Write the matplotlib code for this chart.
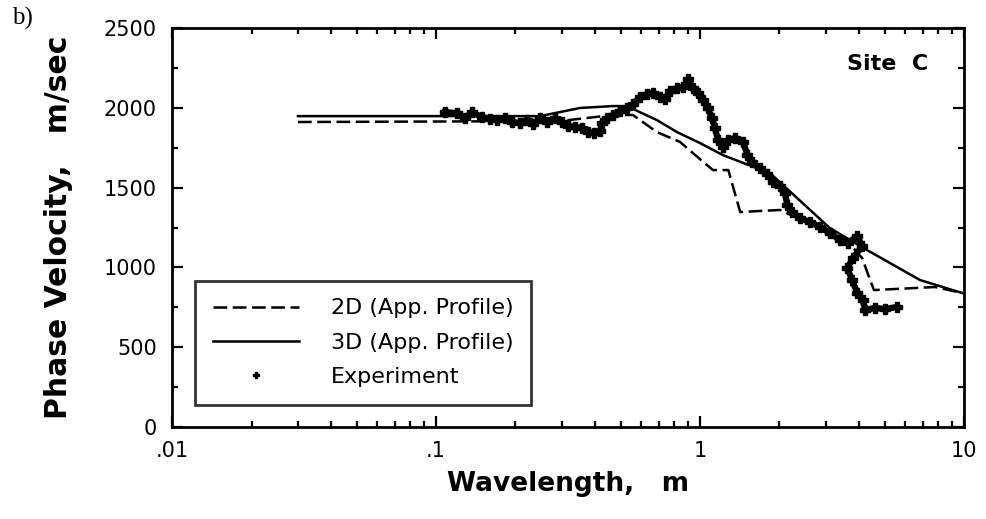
import numpy as np
import matplotlib
matplotlib.use('Agg')
import matplotlib.pyplot as plt
from matplotlib.ticker import FixedLocator, NullFormatter, LogLocator

# 2D apparent profile (dashed)
lam_2d = [0.030, 0.295, 0.468, 0.557, 0.687, 0.840, 1.03, 1.12, 1.28, 1.42,
          2.01, 2.73, 3.70, 4.11, 4.41, 4.56, 7.76, 9.82]
vel_2d = [1911, 1917, 1955, 1955, 1848, 1786, 1660, 1610, 1610, 1347,
          1360, 1259, 1146, 1059, 921, 858, 877, 840]

# 3D apparent profile (solid)
lam_3d = [0.030, 0.248, 0.351, 0.468, 0.528, 0.687, 0.818, 1.0, 1.22, 1.46,
          1.84, 3.10, 4.29, 6.81, 9.82]
vel_3d = [1948, 1948, 1999, 2011, 2011, 1923, 1848, 1779, 1704, 1654,
          1591, 1247, 1109, 921, 840]

# experimental dispersion curve
lam_exp = [0.108, 0.120, 0.129, 0.137, 0.149, 0.160, 0.170, 0.182, 0.194, 0.208,
           0.221, 0.233, 0.248, 0.263, 0.283, 0.300, 0.316, 0.337, 0.357, 0.377,
           0.396, 0.418, 0.426, 0.445, 0.468, 0.498, 0.528, 0.557, 0.593, 0.630,
           0.664, 0.705, 0.736, 0.769, 0.818, 0.863, 0.902, 0.940, 0.981, 1.03,
           1.07, 1.11, 1.14, 1.17, 1.22, 1.28, 1.36, 1.46, 1.51, 1.57,
           1.69, 1.79, 1.89, 2.01, 2.10, 2.14, 2.23, 2.39, 2.61, 2.85,
           3.10, 3.39, 3.64, 3.94, 4.11, 3.80, 3.61, 3.77, 3.94, 4.14,
           4.22, 4.60, 5.02, 5.57]
vel_exp = [1973, 1967, 1936, 1973, 1942, 1930, 1923, 1936, 1911, 1905,
           1923, 1898, 1936, 1911, 1936, 1911, 1886, 1880, 1873, 1848,
           1842, 1854, 1905, 1936, 1955, 1980, 1999, 2024, 2067, 2086,
           2093, 2067, 2055, 2105, 2124, 2130, 2180, 2124, 2093, 2049,
           1999, 1936, 1873, 1798, 1754, 1798, 1811, 1786, 1704, 1660,
           1623, 1585, 1535, 1510, 1466, 1391, 1347, 1309, 1284, 1253,
           1215, 1172, 1153, 1197, 1134, 1059, 996, 921, 840, 796,
           733, 746, 739, 752]

xticks = [0.01, 0.1, 1, 10]
xticklabels = ['.01', '.1', '1', '10']
yticks = [0, 500, 1000, 1500, 2000, 2500]

fig = plt.figure(figsize=(9.87, 5.19), dpi=100)
ax = fig.add_axes([0.1743, 0.1773, 0.8024, 0.7687])

lw = 1.8
ax.plot(lam_2d, vel_2d, color='black', lw=lw, linestyle=(0, (5.5, 2.2)),
        label='2D (App. Profile)')
ax.plot(lam_3d, vel_3d, color='black', lw=lw, label='3D (App. Profile)')
# thick band behind the points, like the dense original trace
ax.plot(lam_exp, vel_exp, color='black', lw=4.5, solid_joinstyle='round',
        label='_nolegend_')
ax.plot(lam_exp, vel_exp, linestyle='none', marker='P', markersize=7,
        color='black', label='Experiment')

ax.set_xscale('log')
ax.set_xlim(0.01, 10)
ax.set_ylim(0, 2500)

ax.xaxis.set_major_locator(FixedLocator(xticks))
ax.set_xticklabels(xticklabels)
ax.xaxis.set_minor_locator(LogLocator(base=10, subs=np.arange(2, 10)))
ax.xaxis.set_minor_formatter(NullFormatter())
ax.set_yticks(yticks)
ax.yaxis.set_minor_locator(FixedLocator(np.arange(250, 2500, 500)))

for s in ax.spines.values():
    s.set_linewidth(2.0)

ax.tick_params(which='both', direction='in', top=True, right=True, width=1.6,
               labelsize=15)
ax.tick_params(which='major', length=8)
ax.tick_params(which='minor', length=4.5)
ax.tick_params(axis='y', pad=11)
ax.tick_params(axis='x', pad=10)

ax.set_xlabel('Wavelength,   m', fontsize=19, fontweight='bold', labelpad=7)
ax.set_ylabel('Phase Velocity,   m/sec', fontsize=21.5, fontweight='bold',
              labelpad=22)

ax.text(0.955, 0.91, 'Site  C', transform=ax.transAxes, ha='right',
        va='center', fontsize=16, fontweight='bold')
fig.text(0.012, 0.952, 'b)', family='Liberation Serif', fontsize=18,
         ha='left', va='baseline')

leg = ax.legend(loc='lower left', bbox_to_anchor=(0.029, 0.055), fontsize=16,
                frameon=True, fancybox=False, edgecolor='black',
                handlelength=3.9, handletextpad=1.4, labelspacing=0.65,
                borderpad=0.8, borderaxespad=0, numpoints=1, markerscale=0.7)
leg.get_frame().set_linewidth(2.0)

fig.savefig('out.png', dpi=100, facecolor='white')
